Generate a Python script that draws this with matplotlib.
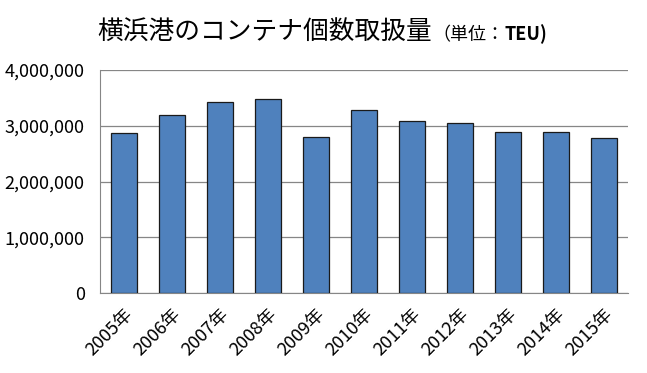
import numpy as np
import matplotlib
matplotlib.use("Agg")
import matplotlib.pyplot as plt
from matplotlib.ticker import FuncFormatter

plt.rcParams['font.family'] = ['Noto Sans CJK JP', 'DejaVu Sans']

years = ["2005年", "2006年", "2007年", "2008年", "2009年", "2010年",
         "2011年", "2012年", "2013年", "2014年", "2015年"]
teu = [2873277, 3200049, 3428112, 3481815, 2797864, 3280059,
       3085662, 3052775, 2888240, 2885081, 2783093]

fig = plt.figure(figsize=(6.47, 3.73), dpi=100)
ax = fig.add_axes([0.1546, 0.2145, 0.8160, 0.5978])

x = np.arange(len(years))
ax.bar(x, teu, width=0.54, color="#4F81BD", edgecolor="#1a1a1a", linewidth=0.9, zorder=3)

ax.set_ylim(0, 4000000)
ax.set_xlim(-0.5, len(years) - 0.5)
ax.set_yticks([0, 1000000, 2000000, 3000000, 4000000])
ax.yaxis.set_major_formatter(FuncFormatter(lambda v, p: f"{int(v):,}"))
ax.grid(axis="y", color="#868686", linewidth=0.9, zorder=0)
for s in ["top", "right"]:
    ax.spines[s].set_visible(False)
ax.spines["left"].set_color("#868686")
ax.spines["bottom"].set_color("#868686")
ax.tick_params(axis="y", length=0, labelsize=13, pad=11)
ax.tick_params(axis="x", length=0, pad=9)
ax.set_xticks(x)
ax.set_xticklabels(years, rotation=45, ha="right", rotation_mode="anchor", fontsize=13)

ty = 0.893
t1 = fig.text(0.151, ty, "横浜港のコンテナ個数取扱量", fontsize=18.5, va="baseline", ha="left")
fig.canvas.draw()
r = fig.canvas.get_renderer()
bb1 = t1.get_window_extent(r)
t2 = fig.text(bb1.x1 / fig.bbox.width, ty, "（単位：", fontsize=13, va="baseline", ha="left")
fig.canvas.draw()
bb2 = t2.get_window_extent(r)
fig.text(bb2.x1 / fig.bbox.width, ty, "TEU)", fontsize=13, va="baseline", ha="left", fontweight="bold")

fig.savefig("out.png", dpi=100)
